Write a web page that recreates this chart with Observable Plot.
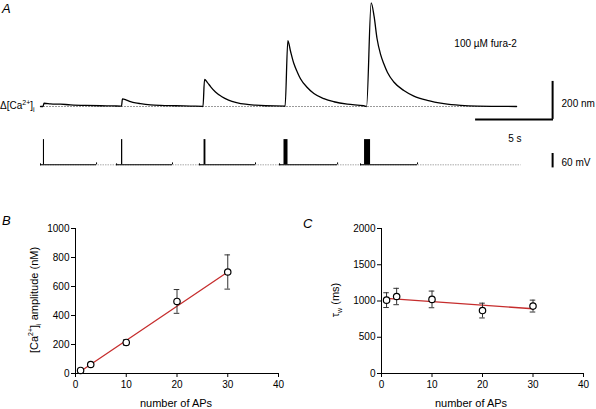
<!DOCTYPE html>
<html><head><meta charset="utf-8">
<script src="https://cdn.jsdelivr.net/npm/d3@7"></script>
<script src="https://cdn.jsdelivr.net/npm/@observablehq/plot@0.6"></script>
<style>
body{margin:0;background:#fff;}
#wrap{position:relative;width:596px;height:409px;font-family:"Liberation Sans",Arial,sans-serif;background:#fff;overflow:hidden;color:#000;}
.p{position:absolute;}
.p svg{display:block;}
.lbl{position:absolute;font-size:11px;white-space:nowrap;line-height:1;}
.letter{position:absolute;font-size:13px;font-style:italic;line-height:1;}
sup,sub{font-size:7px;line-height:0;}
</style>
</head><body>
<div id="wrap"></div>
<script>
// ---------- Panel A: calcium trace (time in s, Δ[Ca2+]i in nM) ----------
const caTime = [0, 0.16, 0.23, 0.65, 1.3, 1.95, 2.92, 3.9, 4.74, 5.19,
  5.26, 5.32, 5.58, 5.84, 6.17, 6.49, 7.14, 7.79, 8.77, 9.74, 10.52,
  10.55, 10.65, 10.84, 11.04, 11.36, 11.75, 12.21, 12.73, 13.31, 13.96, 14.61, 15.84,
  15.88, 16.06, 16.23, 16.45, 16.67, 16.88, 17.32, 17.75, 18.40, 19.05, 19.92, 20.99,
  21.17, 21.47, 21.66, 21.85, 22.08, 22.29, 22.53, 22.94, 23.59, 24.24, 25.11, 26.19, 27.27, 28.38, 30.91];
const caConc = [0, 0, 17, 14, 12, 9, 6, 4, 3, 2,
  2, 40, 34, 26, 19, 15, 9, 6, 4, 2, 1,
  0, 142, 126, 105, 76, 53, 34, 21, 12, 7, 4, 2,
  0, 347, 292, 226, 182, 146, 100, 68, 41, 25, 12, 4,
  0, 545, 474, 358, 274, 225, 179, 129, 84, 55, 32, 15, 6, 2, 0];
const caBaselineEnd = 30.97;
// scale bars: [start time s, length s] and [bottom nM, length nM]
const caBarTime = [28.25, 5];
const caBarConc = [-68, 200];

// ---------- Panel A: AP recordings (time in s, mV) ----------
const apSegStart = [0, 4.94, 10.32, 15.52, 20.78];
const apSegEnd = [3.64, 8.57, 13.96, 19.29, 24.48];
const apTrainStart = [0.19, 5.26, 10.62, 15.81, 21.04];
const apTrainEnd = [0.26, 5.34, 10.74, 16.07, 21.43];
const apRest = -70, apPeak = 35, apBaselineEnd = 31.2;
const mvBar = [-82.9, 60]; // bottom mV, length mV

// ---------- Panel B & C ----------
const nAPs = [1, 3, 10, 20, 30];
const ampMean = [21, 62, 214, 497, 700];
const ampSEM = [8, 8, 18, 82, 118];
const tauMean = [1012, 1062, 1022, 868, 930];
const tauSEM = [102, 113, 115, 102, 82];
const fitN = [1, 30];
const ampFit = [15, 700];
const tauFit = [1035, 893];
const xTicks = [0, 10, 20, 30, 40];
const ampTicks = [0, 200, 400, 600, 800, 1000];
const tauTicks = [0, 500, 1000, 1500, 2000];

const wrap = document.getElementById("wrap");
const FONT = "Liberation Sans, Arial, sans-serif";
const baseStyle = {fontFamily: FONT, fontSize: "10px", background: "transparent", overflow: "visible", color: "black"};

function place(el, left, top) {
  const d = document.createElement("div");
  d.className = "p";
  d.style.left = left + "px"; d.style.top = top + "px";
  d.appendChild(el);
  wrap.appendChild(d);
}
function label(html, x, y, opts = {}) {
  const d = document.createElement("div");
  d.className = opts.cls || "lbl";
  d.innerHTML = html;
  d.style.left = x + "px"; d.style.top = y + "px";
  if (opts.size) d.style.fontSize = opts.size + "px";
  d.style.transform = opts.transform || "translate(0,-50%)";
  wrap.appendChild(d);
}

// ----- A1 -----
const caData = caTime.map((t, i) => ({t, c: caConc[i]}));
const A1 = Plot.plot({
  width: 596, height: 130,
  marginLeft: 40, marginRight: 0, marginTop: 0, marginBottom: 24,
  style: baseStyle,
  x: {domain: [0, 36.1], axis: null},
  y: {domain: [0, 557.9], axis: null},
  marks: [
    Plot.ruleY([{y: 0, a: 0, b: caBaselineEnd}], {y: "y", x1: "a", x2: "b", stroke: "#9a9a9a", strokeWidth: 1, strokeDasharray: "2,1"}),
    Plot.line(caData, {x: "t", y: "c", stroke: "black", strokeWidth: 1.3, curve: "monotone-x"}),
    Plot.ruleX([{t: caBarTime[0] + caBarTime[1], a: caBarConc[0], b: caBarConc[0] + caBarConc[1]}], {x: "t", y1: "a", y2: "b", stroke: "black", strokeWidth: 2}),
    Plot.ruleY([{y: caBarConc[0], a: caBarTime[0], b: caBarTime[0] + caBarTime[1] + 0.06}], {y: "y", x1: "a", x2: "b", stroke: "black", strokeWidth: 2}),
    Plot.text([{t: 28.9, c: 332, s: "100 µM fura-2"}], {x: "t", y: "c", text: "s", fontSize: 10, fill: "black"}),
    Plot.text([{t: 33.83, c: 16, s: "200 nm"}], {x: "t", y: "c", text: "s", fontSize: 10, textAnchor: "start", fill: "black"})
  ]
});
place(A1, 0, 0);

// ----- A2 -----
const segs = apSegStart.map((s, i) => ({s, e: apSegEnd[i], y: apRest}));
const trains = apTrainStart.map((s, i) => ({s, e: apTrainEnd[i], lo: apRest, hi: apPeak}));
const A2 = Plot.plot({
  width: 596, height: 50,
  marginLeft: 40, marginRight: 0, marginTop: 0, marginBottom: 0,
  style: baseStyle,
  x: {domain: [0, 36.1], axis: null},
  y: {domain: [-127, 81.25], axis: null},
  marks: [
    Plot.ruleY([{y: apRest, a: 0, b: apBaselineEnd}], {y: "y", x1: "a", x2: "b", stroke: "#aaa", strokeWidth: 1, strokeDasharray: "1.5,1"}),
    Plot.ruleY(segs, {y: "y", x1: "s", x2: "e", stroke: "black", strokeWidth: 1.1}),
    Plot.ruleX(segs, {x: "e", y1: apRest, y2: apRest + 8, stroke: "black", strokeWidth: 1}),
    Plot.ruleX(segs, {x: "s", y1: apRest - 4, y2: apRest + 4, stroke: "black", strokeWidth: 1}),
    Plot.rect(trains, {x1: "s", x2: "e", y1: "lo", y2: "hi", fill: "black"}),
    Plot.ruleX([{t: caBarTime[0] + caBarTime[1], a: mvBar[0], b: mvBar[0] + mvBar[1]}], {x: "t", y1: "a", y2: "b", stroke: "black", strokeWidth: 2}),
    Plot.text([{t: 30.8, v: 39.6, s: "5 s"}], {x: "t", y: "v", text: "s", fontSize: 10, fill: "black"}),
    Plot.text([{t: 33.83, v: -60.4, s: "60 mV"}], {x: "t", y: "v", text: "s", fontSize: 10, textAnchor: "start", fill: "black"})
  ]
});
place(A2, 0, 128);

// ----- B & C -----
function scatterPanel(mean, sem, fit, yDomain, yTicks, mLeft, mRight, capHalf) {
  const data = nAPs.map((n, i) => ({n, m: mean[i], e: sem[i]}));
  const fitData = fitN.map((n, i) => ({n, v: fit[i]}));
  return Plot.plot({
    width: 298, height: 199,
    marginLeft: mLeft, marginRight: mRight, marginTop: 18, marginBottom: 36,
    style: baseStyle,
    x: {domain: [0, 40]},
    y: {domain: yDomain},
    marks: [
      Plot.axisX({ticks: xTicks, tickSize: 4, tickPadding: 3, label: null, tickFormat: "d", fontSize: 10}),
      Plot.axisY({ticks: yTicks, tickSize: 4, tickPadding: 2, label: null, tickFormat: "d", fontSize: 10}),
      Plot.ruleX([0], {stroke: "black", strokeWidth: 1}),
      Plot.ruleY([0], {stroke: "black", strokeWidth: 1}),
      Plot.line(fitData, {x: "n", y: "v", stroke: "#c62d2d", strokeWidth: 1.3}),
      Plot.ruleX(data, {x: "n", y1: d => d.m - d.e, y2: d => d.m + d.e, stroke: "#333", strokeWidth: 1}),
      Plot.ruleY(data, {y: d => d.m + d.e, x1: d => d.n - capHalf, x2: d => d.n + capHalf, stroke: "#333", strokeWidth: 1}),
      Plot.ruleY(data, {y: d => d.m - d.e, x1: d => d.n - capHalf, x2: d => d.n + capHalf, stroke: "#333", strokeWidth: 1}),
      Plot.dot(data, {x: "n", y: "m", r: 3.2, fill: "white", stroke: "black", strokeWidth: 1.2})
    ]
  });
}
place(scatterPanel(ampMean, ampSEM, ampFit, [0, 1000], ampTicks, 75, 20, 0.55), 0, 210);
place(scatterPanel(tauMean, tauSEM, tauFit, [0, 2000], tauTicks, 83, 13, 0.55), 298, 210);

// ----- labels -----
label("A", 2, 8, {cls: "letter"});
label("B", 2, 220, {cls: "letter"});
label("C", 303, 223, {cls: "letter"});
label("&Delta;[Ca<sup>2+</sup>]<sub>i</sub>", 0, 106, {size: 10});
label("number of APs", 176, 403, {transform: "translate(-50%,-50%)"});
label("number of APs", 471, 403, {transform: "translate(-50%,-50%)"});
label("[Ca<sup>2+</sup>]<sub>i</sub> amplitude (nM)", 34, 300, {transform: "translate(-50%,-50%) rotate(-90deg)"});
label("&tau;<sub>w</sub> (ms)", 335, 300, {transform: "translate(-50%,-50%) rotate(-90deg)"});
</script>
</body></html>
